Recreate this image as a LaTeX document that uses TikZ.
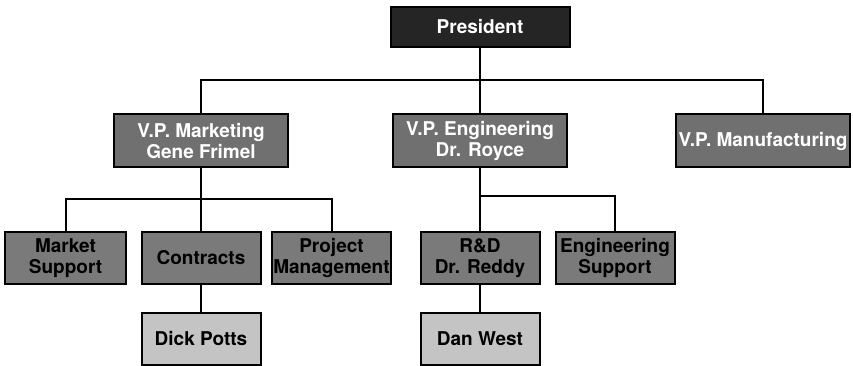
\documentclass[tikz,border=0pt]{standalone}
\usepackage{fontspec}
\setmainfont{TeX Gyre Heros}
\usepackage{xcolor}
\usepackage{tikz}
\usetikzlibrary{positioning}

\definecolor{presblack}{HTML}{252525}
\definecolor{vpgray}{HTML}{707070}
\definecolor{deptgray}{HTML}{7A7A7A}
\definecolor{staffgray}{HTML}{C4C4C4}

\begin{document}
\begin{tikzpicture}[x=1pt, y=-1pt,
		box/.style={rectangle, draw=black, line width=2pt, inner sep=1pt, align=center,
			font=\fontsize{19}{20.5}\selectfont\bfseries},
		presbox/.style={box, fill=presblack, text=white, minimum width=179pt, minimum height=40pt},
		vpbox/.style={box, fill=vpgray, text=white, minimum width=174pt, minimum height=53pt},
		deptbox/.style={box, fill=deptgray, text=black, minimum width=119pt, minimum height=52pt},
		staffbox/.style={box, fill=staffgray, text=black, minimum width=119pt, minimum height=52pt},
		link/.style={draw=black, line width=2pt}]
		\useasboundingbox (0,0) rectangle (853,366);
		
		% Direction
		\node[presbox] (president) at (480,27) {President};
		
		% Vice-présidents
		\node[vpbox] (vpmkt) at (201,141) {V.P. Marketing\\Gene Frimel};
		\node[vpbox] (vpeng) at (480,141) {V.P. Engineering\\Dr. Royce};
		\node[vpbox] (vpmanuf) at (763,141) {V.P. Manufacturing};
		
		% Services
		\node[deptbox, minimum width=121pt] (mktsupport) at (65.5,258) {Market\\Support};
		\node[deptbox] (contracts) at (201,258) {Contracts};
		\node[deptbox, minimum width=117pt] (projmgmt) at (331.5,258) {Project\\Management};
		\node[deptbox] (rnd) at (480,258) {R\&D\\Dr. Reddy};
		\node[deptbox] (engsupport) at (615,258) {Engineering\\Support};
		
		% Personnes
		\node[staffbox] (dickpotts) at (201,339) {Dick Potts};
		\node[staffbox] (danwest) at (480,339) {Dan West};
		
		% Liaisons
		\draw[link] (president.south) -- (vpeng.north);
		\draw[link] (vpmkt.north) -- ++(0,-33) -| (vpmanuf.north);
		\draw[link] (vpmkt.south) -- (contracts.north);
		\draw[link] (mktsupport.north) -- ++(0,-32) -| (projmgmt.north);
		\draw[link] (contracts.south) -- (dickpotts.north);
		\draw[link] (vpeng.south) -- (rnd.north);
		\draw[link] (rnd.north) ++(0,-35) -| (engsupport.north);
		\draw[link] (rnd.south) -- (danwest.north);
		
	\end{tikzpicture}
\end{document}
